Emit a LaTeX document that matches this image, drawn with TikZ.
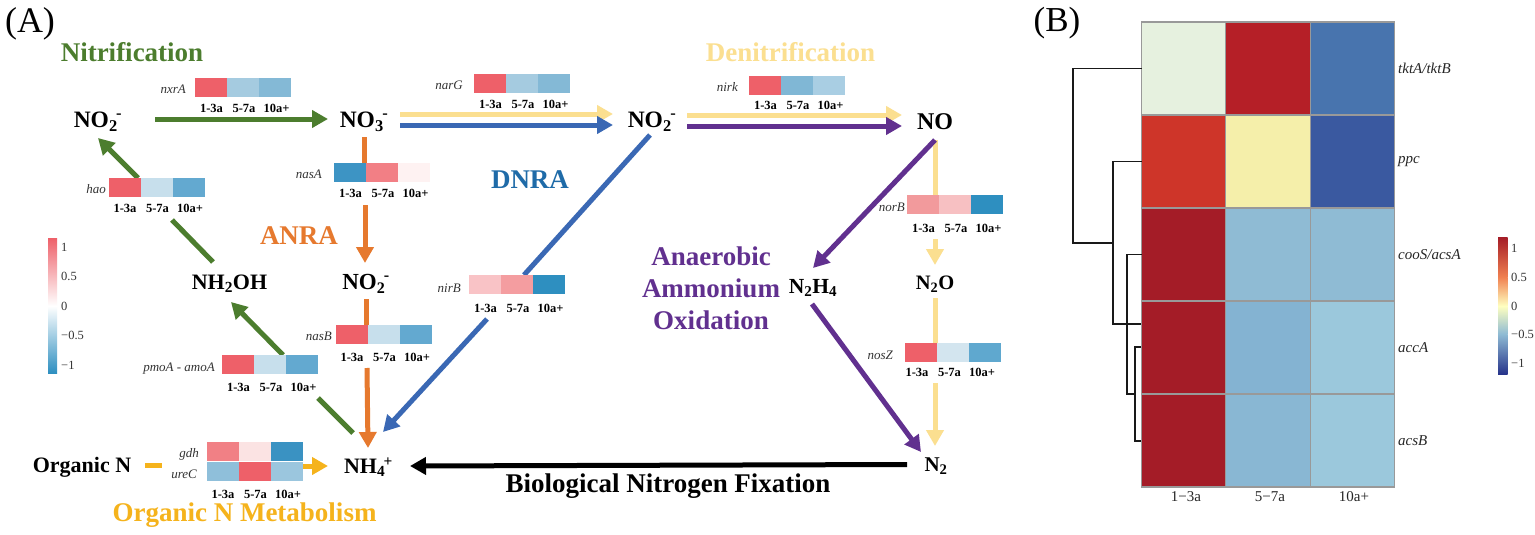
\documentclass[tikz,border=0pt]{standalone}
\usepackage{fontspec}
\setmainfont{Liberation Serif}
\usetikzlibrary{arrows.meta}
\definecolor{cgreen}{HTML}{4C7D2E}
\definecolor{corange}{HTML}{E6792E}
\definecolor{cblue}{HTML}{3A68B4}
\definecolor{cyel}{HTML}{FBDF90}
\definecolor{cpurp}{HTML}{61308F}
\definecolor{cgold}{HTML}{F5B31C}
\definecolor{tblue}{HTML}{1F6BA8}
\definecolor{R}{HTML}{EE6069}
\newcommand{\hexc}[1]{\definecolor{x#1}{HTML}{#1}}
\hexc{A5CBE0}\hexc{84B9D6}\hexc{C7DFEC}\hexc{63A9D0}\hexc{3D94C4}\hexc{F27F85}\hexc{FEF2F2}
\hexc{80B7D5}\hexc{A9CEE3}\hexc{F29A9C}\hexc{F7C0C2}\hexc{2E8FC0}\hexc{F9C3C6}\hexc{F49DA0}
\hexc{F18085}\hexc{FBE3E3}\hexc{3A92C2}\hexc{8FBFDA}\hexc{9BC6DE}\hexc{D3E5EF}\hexc{5FA8CF}
\hexc{E6F1DF}\hexc{B51F27}\hexc{4874AE}\hexc{CE3529}\hexc{F5EFAA}\hexc{3A59A0}\hexc{A41C27}
\hexc{8FBBD4}\hexc{84B3D2}\hexc{9BC8DC}\hexc{89B7D3}\hexc{F08050}\hexc{FFFFC0}\hexc{27348B}\hexc{999999}
\tikzset{
 px/.style={font=\fontsize{#1}{#1}\selectfont},
 species/.style={font=\fontsize{#1}{#1}\selectfont\bfseries,inner sep=0pt,text=black},
 species/.default=24,
 ttl/.style={font=\fontsize{27}{27}\selectfont\bfseries,inner sep=0pt,align=center},
 gene/.style={font=\fontsize{13}{13}\selectfont\itshape,inner sep=0pt,text=black!80,anchor=east},
 tick/.style={font=\fontsize{12.5}{12.5}\selectfont\bfseries,inner sep=0pt},
 cell/.style={minimum width=32pt,minimum height=19pt,inner sep=0pt,outer sep=0pt,anchor=north west},
 seg/.style={line width=5pt},
 arr/.style={line width=5pt,-{Triangle[length=16pt,width=17pt]}},
 hm/.style={draw=x999999,line width=1.1pt,minimum width=84.2pt,minimum height=93pt,inner sep=0pt,outer sep=0pt,anchor=north west},
 dend/.style={draw=black!90,line width=1.3pt},
 barlab/.style={font=\fontsize{12.5}{12.5}\selectfont,inner sep=0pt,anchor=west,text=black!80},
 hmrow/.style={font=\fontsize{15}{15}\selectfont\itshape,inner sep=0pt,anchor=west,text=black!85},
 hmcol/.style={font=\fontsize{15}{15}\selectfont,inner sep=0pt,text=black!85},
}
\newcommand{\sbp}[2]{\textsubscript{#1}\kern-1.5pt\textsuperscript{#2}}
% name, left x, top y, three colours
\newcommand{\cellrow}[6]{%
 \node[cell,fill=#4] (#1a) at (#2,#3) {};
 \node[cell,fill=#5] (#1b) at (#2+32,#3) {};
 \node[cell,fill=#6] (#1c) at (#2+64,#3) {};
}
\newcommand{\ticks}[3]{%
 \node[tick] (#1x) at (#2+16.5,#3) {1-3a};
 \node[tick] (#1y) at (#2+49,#3) {5-7a};
 \node[tick] (#1z) at (#2+81.5,#3) {10a+};
}
\begin{document}
\begin{tikzpicture}[x=1pt,y=-1pt]
\useasboundingbox (0,0) rectangle (1535,535);
\fill[white] (0,0) rectangle (1535,535);

\node[px=36,inner sep=0pt] (lA) at (30,24) {(A)};
\node[px=35,inner sep=0pt] (lB) at (1057,23) {(B)};

% species
\node[species=23.5] (no2l) at (98,122) {NO\sbp{2}{-}};
\node[species=23.5] (no3) at (364,122) {NO\sbp{3}{-}};
\node[species=23.5] (no2m) at (652,122) {NO\sbp{2}{-}};
\node[species] (no) at (935,122) {NO};
\node[species=22] (nh2oh) at (229.5,284) {NH\textsubscript{2}OH};
\node[species=23] (no2c) at (366,284) {NO\sbp{2}{-}};
\node[species=21.5] (n2h4) at (813,288) {N\textsubscript{2}H\textsubscript{4}};
\node[species=20.5] (n2o) at (935,284) {N\textsubscript{2}O};
\node[species=22] (nh4) at (368.5,467) {NH\sbp{4}{+}};
\node[species=21] (n2) at (936,466) {N\textsubscript{2}};
\node[species=22] (orgn) at (82,467) {Organic N};

% titles
\node[ttl,text=cgreen] (tN) at (132,52) {Nitrification};
\node[ttl,text=cyel] (tD) at (790.5,52) {Denitrification};
\node[ttl,text=corange] (tA) at (299,236) {ANRA};
\node[ttl,text=tblue] (tR) at (530,180) {DNRA};
\node[ttl,text=cpurp,font=\fontsize{27}{32}\selectfont\bfseries] (tX) at (711,288) {Anaerobic\\Ammonium\\Oxidation};
\node[ttl,text=cgold] (tO) at (244.5,515) {Organic N Metabolism};
\node[ttl,text=black] (tB) at (668,486) {Biological Nitrogen Fixation};

% connector ends
\coordinate (a1) at (155,119); \coordinate (a2) at (328,119);
\coordinate (b1) at (138,178); \coordinate (b2) at (98,138);
\coordinate (b3) at (213,262); \coordinate (b4) at (172,220);
\coordinate (c1) at (283,355); \coordinate (c2) at (231,302);
\coordinate (c3) at (353,433); \coordinate (c4) at (318,398);
\coordinate (d1) at (364,137); \coordinate (d2) at (364,163);
\coordinate (d3) at (365,205); \coordinate (d4) at (365,263);
\coordinate (e1) at (366,299); \coordinate (e2) at (366,325);
\coordinate (e3) at (367,368); \coordinate (e4) at (368,448);
\coordinate (f1) at (650,135); \coordinate (f2) at (524,275);
\coordinate (f3) at (487,319); \coordinate (f4) at (383,432);
\coordinate (g1) at (400,114); \coordinate (g2) at (613,114);
\coordinate (h1) at (400,125); \coordinate (h2) at (613,125);
\coordinate (i1) at (687,115); \coordinate (i2) at (902,115);
\coordinate (j1) at (687,126); \coordinate (j2) at (902,126);
\coordinate (k1) at (935,140); \coordinate (k2) at (813,268);
\coordinate (l1) at (935,140); \coordinate (l2) at (935,200);
\coordinate (l3) at (935,239); \coordinate (l4) at (935,265);
\coordinate (m1) at (935,298); \coordinate (m2) at (935,343);
\coordinate (m3) at (935,383); \coordinate (m4) at (935,446);
\coordinate (o1) at (812,304); \coordinate (o2) at (921,452);
\coordinate (p1) at (907,464.5); \coordinate (p2) at (410,466);
\coordinate (q1) at (145,465); \coordinate (q2) at (162,465);
\coordinate (q3) at (302,466); \coordinate (q4) at (328,466);

% connectors
\draw[arr,cgreen] (a1) -- (a2);
\draw[arr,cgreen] (b1) -- (b2);
\draw[seg,cgreen] (b3) -- (b4);
\draw[arr,cgreen] (c1) -- (c2);
\draw[seg,cgreen] (c3) -- (c4);
\draw[seg,corange] (d1) -- (d2);
\draw[arr,corange] (d3) -- (d4);
\draw[seg,corange] (e1) -- (e2);
\draw[arr,corange] (e3) -- (e4);
\draw[seg,cblue] (f1) -- (f2);
\draw[arr,cblue] (f3) -- (f4);
\draw[arr,cyel] (g1) -- (g2);
\draw[arr,cblue] (h1) -- (h2);
\draw[arr,cyel] (i1) -- (i2);
\draw[arr,cpurp] (j1) -- (j2);
\draw[seg,cyel] (l1) -- (l2);
\draw[arr,cyel] (l3) -- (l4);
\draw[arr,cpurp] (k1) -- (k2);
\draw[seg,cyel] (m1) -- (m2);
\draw[arr,cyel] (m3) -- (m4);
\draw[arr,cpurp] (o1) -- (o2);
\draw[arr,black] (p1) -- (p2);
\draw[seg,cgold] (q1) -- (q2);
\draw[arr,cgold] (q3) -- (q4);

% gene strips
\cellrow{nxr}{195}{78}{R}{xA5CBE0}{x84B9D6} \ticks{nxr}{195}{108}
\node[gene] (gnxr) at (186,89) {nxrA};
\cellrow{hao}{108.5}{178}{R}{xC7DFEC}{x63A9D0} \ticks{hao}{108.5}{208}
\node[gene] (ghao) at (106,189) {hao};
\cellrow{nasa}{334}{163}{x3D94C4}{xF27F85}{xFEF2F2} \ticks{nasa}{334}{193}
\node[gene] (gnasa) at (322,174) {nasA};
\cellrow{nar}{474}{74}{R}{xA5CBE0}{x84B9D6} \ticks{nar}{474}{104}
\node[gene] (gnar) at (463,85) {narG};
\cellrow{nik}{749}{76}{R}{x80B7D5}{xA9CEE3} \ticks{nik}{749}{105}
\node[gene] (gnik) at (738,87) {nirk};
\cellrow{nor}{907}{195}{xF29A9C}{xF7C0C2}{x2E8FC0} \ticks{nor}{907}{228}
\node[gene] (gnor) at (905,207) {norB};
\cellrow{nib}{469}{275}{xF9C3C6}{xF49DA0}{x2E8FC0} \ticks{nib}{469}{308}
\node[gene] (gnib) at (461,288) {nirB};
\cellrow{nasb}{335.5}{325}{R}{xC7DFEC}{x63A9D0} \ticks{nasb}{335.5}{357}
\node[gene] (gnasb) at (332,336) {nasB};
\cellrow{pmo}{222}{355}{R}{xC7DFEC}{x63A9D0} \ticks{pmo}{222}{387}
\node[gene] (gpmo) at (215,369) {pmoA - amoA};
\cellrow{gdh}{206.5}{442}{xF18085}{xFBE3E3}{x3A92C2}
\cellrow{ure}{206.5}{462}{x8FBFDA}{R}{x9BC6DE} \ticks{ure}{206.5}{494}
\node[gene] (ggdh) at (199,454) {gdh};
\node[gene] (gure) at (197,474) {ureC};
\cellrow{nos}{905}{343}{R}{xD3E5EF}{x5FA8CF} \ticks{nos}{900.5}{372}
\node[gene] (gnos) at (893,355) {nosZ};

% left colour bar
\shade[top color=R,bottom color=white] (48,238) rectangle (57,306);
\shade[top color=white,bottom color=x2E8FC0] (48,306) rectangle (57,373);
\node[barlab] (lb1) at (61,247) {1};
\node[barlab] (lb2) at (61,276) {0.5};
\node[barlab] (lb3) at (61,306) {0};
\node[barlab] (lb4) at (61,335) {−0.5};
\node[barlab] (lb5) at (61,365) {−1};

% heatmap
\node[hm,fill=xE6F1DF] (h11) at (1141.7,22) {};
\node[hm,fill=xB51F27] (h12) at (1225.9,22) {};
\node[hm,fill=x4874AE] (h13) at (1310.1,22) {};
\node[hm,fill=xCE3529] (h21) at (1141.7,115) {};
\node[hm,fill=xF5EFAA] (h22) at (1225.9,115) {};
\node[hm,fill=x3A59A0] (h23) at (1310.1,115) {};
\node[hm,fill=xA41C27] (h31) at (1141.7,208) {};
\node[hm,fill=x8FBBD4] (h32) at (1225.9,208) {};
\node[hm,fill=x8FBBD4] (h33) at (1310.1,208) {};
\node[hm,fill=xA41C27] (h41) at (1141.7,301) {};
\node[hm,fill=x84B3D2] (h42) at (1225.9,301) {};
\node[hm,fill=x9BC8DC] (h43) at (1310.1,301) {};
\node[hm,fill=xA41C27] (h51) at (1141.7,394) {};
\node[hm,fill=x89B7D3] (h52) at (1225.9,394) {};
\node[hm,fill=x9BC8DC] (h53) at (1310.1,394) {};

\node[hmrow] (r1) at (1398,68) {tktA/tktB};
\node[hmrow] (r2) at (1398,162) {ppc};
\node[hmrow] (r3) at (1398,255) {cooS/acsA};
\node[hmrow] (r4) at (1398,348) {accA};
\node[hmrow] (r5) at (1398,441) {acsB};
\node[hmcol] (c1l) at (1186,497) {1−3a};
\node[hmcol] (c2l) at (1270,497) {5−7a};
\node[hmcol] (c3l) at (1354,497) {10a+};

% dendrogram
\coordinate (d11) at (1073,68.5); \coordinate (d12) at (1073,243); \coordinate (d13) at (1113,243);
\coordinate (d21) at (1113,161.5); \coordinate (d22) at (1113,324); \coordinate (d23) at (1141,324);
\coordinate (d31) at (1127,254.5); \coordinate (d32) at (1127,394); \coordinate (d33) at (1135,394);
\coordinate (d40) at (1141,347); \coordinate (d41) at (1135,347); \coordinate (d42) at (1135,441); \coordinate (d43) at (1141,441);
\draw[dend] (h11.west) -- (d11) -- (d12) -- (d13);
\draw[dend] (h21.west) -- (d21) -- (d22) -- (d23);
\draw[dend] (h31.west) -- (d31) -- (d32) -- (d33);
\draw[dend] (d40) -- (d41) -- (d42) -- (d43);

% right colour bar
\shade[top color=xA41C27,bottom color=xF08050] (1498,237) rectangle (1507.5,277);
\shade[top color=xF08050,bottom color=xFFFFC0] (1498,277) rectangle (1507.5,306);
\shade[top color=xFFFFC0,bottom color=x8FBBD4] (1498,306) rectangle (1507.5,334);
\shade[top color=x8FBBD4,bottom color=x27348B] (1498,334) rectangle (1507.5,374);
\node[barlab] (rb1) at (1511,248) {1};
\node[barlab] (rb2) at (1511,277) {0.5};
\node[barlab] (rb3) at (1511,306) {0};
\node[barlab] (rb4) at (1511,334) {−0.5};
\node[barlab] (rb5) at (1511,363) {−1};
\end{tikzpicture}
\end{document}
